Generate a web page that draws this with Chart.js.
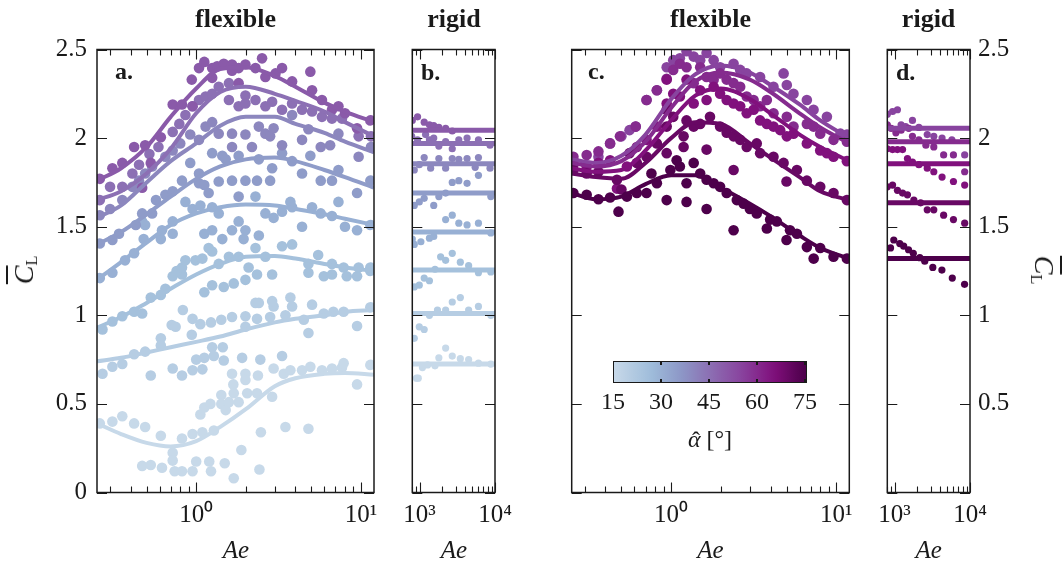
<!DOCTYPE html>
<html>
<head>
<meta charset="utf-8">
<script src="https://cdn.jsdelivr.net/npm/chart.js@4.4.1/dist/chart.umd.min.js"></script>
<style>
  html, body { margin: 0; padding: 0; background: #fff; }
  body { width: 1063px; height: 568px; position: relative; overflow: hidden;
         font-family: 'Liberation Serif', 'DejaVu Serif', serif; color: #1a1a1a; }
  canvas.panel { position: absolute; left: 0; top: 0; }
  .t { position: absolute; white-space: nowrap; line-height: 1; }
  .title { font-weight: bold; font-size: 26px; transform: translateX(-50%); }
  .letter { font-weight: bold; font-size: 24px; }
  .xlab { font-style: italic; font-size: 25px; transform: translateX(-50%); }
  .cbl { font-size: 24px; transform: translateX(-50%); }
  .ylab { font-size: 28px; }
  .ylab i { text-decoration: overline; text-decoration-thickness: 1.5px; }
  .ylab sub { font-size: 16px; font-style: normal; vertical-align: -4px; }
  #cbar { position: absolute; left: 613px; top: 361px; width: 194px; height: 22px;
          border: 1.5px solid #1a1a1a; box-sizing: border-box; }
  .cbt { position: absolute; width: 1.2px; height: 4px; background: #1a1a1a; }
  .hat { position: relative; display: inline-block; font-style: italic; }
  .hat span { position: absolute; left: 4px; top: 1px; font-style: normal; }
</style>
</head>
<body>
<canvas id="pa" class="panel" width="1063" height="568"></canvas>
<canvas id="pb" class="panel" width="1063" height="568"></canvas>
<canvas id="pc" class="panel" width="1063" height="568"></canvas>
<canvas id="pd" class="panel" width="1063" height="568"></canvas>

<div class="t title" style="left:235.5px;top:6px">flexible</div>
<div class="t title" style="left:454px;top:6px">rigid</div>
<div class="t title" style="left:710.5px;top:6px">flexible</div>
<div class="t title" style="left:928.6px;top:6px">rigid</div>

<div class="t letter" style="left:115px;top:59px">a.</div>
<div class="t letter" style="left:421px;top:60px">b.</div>
<div class="t letter" style="left:588px;top:59px">c.</div>
<div class="t letter" style="left:896px;top:60px">d.</div>

<div class="t xlab" style="left:236px;top:537px">Ae</div>
<div class="t xlab" style="left:454px;top:537px">Ae</div>
<div class="t xlab" style="left:710.5px;top:537px">Ae</div>
<div class="t xlab" style="left:928.6px;top:537px">Ae</div>

<div class="t ylab" id="ylabL" style="left:25px;top:270px;transform:translate(-50%,-50%) rotate(-90deg)"><i>C</i><sub>L</sub></div>
<div class="t ylab" id="ylabR" style="left:1043px;top:270px;transform:translate(-50%,-50%) rotate(90deg)"><i>C</i><sub>L</sub></div>

<div id="cbar"></div>
<div id="cbarTicks"></div>
<div id="cbarLabels"></div>
<div class="t" style="left:710px;top:427px;font-size:24px;transform:translateX(-50%)"><span class="hat">α<span>ˆ</span></span> [°]</div>

<script>
// ---- axes ----
const yTicks = [0, 0.5, 1, 1.5, 2, 2.5];
const flexAeRange = [0.25, 12];
const rigidAeRange = [800, 10000];
const flexAeLabels = [1, 10];
const rigidAeLabels = [1000, 10000];
const colorbarTicks = [15, 30, 45, 60, 75];
const colorbarRange = [15, 75.6];

// ---- angle of attack of each series ----
const alphaLeft = [15, 20, 25, 30, 35, 40, 45, 50];
const alphaRight = [55, 60, 65, 70, 75];

// ---- fitted curves (flexible), sampled at fitAe ----
const fitAe = [0.25, 0.35, 0.5, 0.7, 1, 1.4, 2, 3, 4, 6, 8, 12];
const flexFit15 = [0.39, 0.33, 0.28, 0.26, 0.29, 0.37, 0.47, 0.60, 0.645, 0.67, 0.675, 0.665];
const flexFit20 = [0.74, 0.76, 0.79, 0.82, 0.85, 0.88, 0.92, 0.96, 0.98, 1.0, 1.02, 1.03];
const flexFit25 = [0.93, 0.99, 1.07, 1.15, 1.23, 1.29, 1.33, 1.335, 1.32, 1.29, 1.27, 1.25];
const flexFit30 = [1.20, 1.30, 1.41, 1.51, 1.575, 1.61, 1.625, 1.62, 1.60, 1.57, 1.545, 1.51];
const flexFit35 = [1.40, 1.47, 1.57, 1.67, 1.77, 1.84, 1.88, 1.89, 1.87, 1.82, 1.78, 1.72];
const flexFit40 = [1.55, 1.62, 1.75, 1.87, 1.97, 2.07, 2.12, 2.12, 2.08, 2.03, 1.98, 1.92];
const flexFit45 = [1.65, 1.70, 1.80, 1.94, 2.14, 2.26, 2.29, 2.25, 2.21, 2.15, 2.09, 2.01];
const flexFit50 = [1.76, 1.83, 1.95, 2.12, 2.28, 2.39, 2.40, 2.35, 2.29, 2.20, 2.15, 2.09];
const flexFit55 = [1.88, 1.86, 1.90, 2.02, 2.22, 2.36, 2.41, 2.37, 2.30, 2.19, 2.10, 2.00];
const flexFit60 = [1.86, 1.84, 1.87, 1.98, 2.17, 2.32, 2.37, 2.33, 2.26, 2.14, 2.06, 1.97];
const flexFit65 = [1.83, 1.81, 1.82, 1.93, 2.10, 2.24, 2.28, 2.22, 2.14, 2.02, 1.95, 1.87];
const flexFit70 = [1.80, 1.78, 1.77, 1.86, 2.00, 2.09, 2.08, 1.97, 1.89, 1.78, 1.70, 1.65];
const flexFit75 = [1.69, 1.655, 1.67, 1.74, 1.79, 1.79, 1.72, 1.63, 1.56, 1.45, 1.38, 1.32];

// ---- measurements (flexible): [Ae, CL] ----
const flexPts15 = [[0.26,0.39],[0.31,0.40],[0.356,0.43],[0.42,0.39],[0.49,0.37],[0.61,0.32],[0.47,0.15],[0.53,0.155],[0.62,0.14],[0.72,0.225],[0.72,0.18],[0.74,0.12],[0.82,0.12],[0.82,0.305],[0.95,0.12],[0.95,0.33],[1.0,0.175],[1.09,0.34],[1.06,0.44],[1.12,0.48],[1.22,0.50],[1.2,0.175],[1.23,0.12],[1.28,0.35],[1.42,0.55],[1.42,0.50],[1.49,0.165],[1.51,0.465],[1.58,0.51],[1.65,0.67],[1.68,0.61],[1.69,0.56],[1.69,0.08],[1.81,0.51],[1.88,0.24],[1.99,0.67],[1.99,0.635],[2.04,0.56],[2.37,0.66],[2.34,0.56],[2.47,0.34],[2.42,0.13],[2.89,0.54],[2.95,0.70],[3.4,0.67],[3.48,0.37],[3.73,0.69],[4.39,0.69],[4.8,0.36],[4.93,0.71],[5.8,0.69],[6.67,0.70],[7.67,0.705],[7.85,0.73],[9.47,0.61],[11.4,0.72]];
const flexPts20 = [[0.27,0.67],[0.31,0.71],[0.356,0.725],[0.42,0.78],[0.49,0.795],[0.53,0.66],[0.61,0.87],[0.61,0.83],[0.72,0.70],[0.71,0.945],[0.75,0.935],[0.83,1.03],[0.82,0.66],[0.94,0.89],[0.95,0.69],[0.95,0.98],[1.06,0.95],[1.0,0.75],[1.09,0.695],[1.12,0.76],[1.23,0.96],[1.25,0.82],[1.28,0.77],[1.42,0.975],[1.45,0.82],[1.47,0.745],[1.65,0.99],[1.90,0.76],[1.99,0.995],[1.99,0.935],[2.29,1.07],[2.40,1.07],[2.45,0.75],[2.34,0.98],[2.81,0.99],[2.95,1.05],[2.89,1.08],[3.32,0.77],[3.48,1.0],[3.73,1.10],[3.82,1.05],[4.5,0.975],[4.8,0.90],[5.05,1.06],[5.95,1.01],[6.8,1.02],[7.85,1.02],[9.47,0.94],[11.4,1.045]];
const flexPts25 = [[0.27,0.92],[0.31,0.965],[0.356,0.995],[0.42,1.02],[0.47,1.01],[0.53,1.10],[0.61,1.115],[0.65,1.15],[0.72,1.22],[0.82,1.23],[1.12,1.13],[1.25,1.17],[1.47,1.16],[1.69,1.18],[1.99,1.20],[2.34,1.23],[2.89,1.23],[9.47,1.22],[11.4,1.25],[0.76,1.25],[0.82,1.27],[0.86,1.31],[0.99,1.31],[1.09,1.32],[1.25,1.36],[1.37,1.29],[1.58,1.33],[1.81,1.33],[2.29,1.38],[2.63,1.33],[3.32,1.39],[3.82,1.40],[4.8,1.29],[5.5,1.34],[6.67,1.29],[7.85,1.27],[9.68,1.27],[11.4,1.27],[1.19,1.38],[2.08,1.27],[4.8,1.24],[5.95,1.22],[6.67,1.23],[8.2,1.22]];
const flexPts30 = [[0.26,1.21],[0.31,1.24],[0.37,1.31],[0.42,1.35],[0.48,1.43],[0.49,1.51],[0.47,1.53],[0.61,1.43],[0.62,1.48],[0.72,1.46],[0.72,1.53],[0.86,1.64],[0.95,1.60],[1.06,1.62],[1.25,1.61],[1.37,1.575],[1.12,1.46],[1.25,1.48],[1.44,1.43],[1.65,1.48],[1.81,1.53],[1.99,1.48],[1.94,1.43],[2.29,1.67],[2.40,1.45],[2.63,1.575],[2.95,1.55],[3.32,1.585],[3.73,1.64],[3.82,1.61],[4.39,1.50],[5.05,1.61],[5.7,1.575],[6.67,1.56],[7.3,1.64],[8.0,1.50],[9.47,1.48],[11.4,1.51]];
const flexPts35 = [[0.26,1.405],[0.31,1.425],[0.34,1.46],[0.43,1.51],[0.47,1.575],[0.54,1.575],[0.57,1.65],[0.65,1.68],[0.72,1.70],[0.82,1.76],[0.92,1.86],[1.04,1.80],[1.04,1.745],[1.12,1.735],[1.19,1.69],[1.25,1.915],[1.37,1.755],[1.44,1.90],[1.51,1.88],[1.65,1.76],[1.81,1.90],[1.81,1.67],[1.99,1.76],[2.34,1.76],[2.40,1.88],[2.81,1.76],[2.89,1.83],[3.32,1.915],[3.82,1.87],[4.39,1.80],[4.93,1.90],[5.7,1.76],[6.67,1.76],[7.3,1.82],[9.47,1.69],[11.4,1.76]];
const flexPts40 = [[0.26,1.565],[0.30,1.60],[0.356,1.65],[0.41,1.725],[0.45,1.76],[0.49,1.80],[0.54,1.84],[0.65,1.895],[0.72,1.93],[0.80,1.97],[0.92,2.02],[1.04,1.99],[1.14,2.065],[1.25,2.09],[1.37,2.025],[1.65,2.025],[1.65,1.95],[1.99,2.02],[2.18,1.95],[2.40,2.065],[2.63,2.025],[2.81,2.01],[2.95,2.055],[3.32,1.96],[3.82,2.13],[4.39,1.99],[4.8,2.05],[5.7,1.95],[6.5,1.96],[7.3,2.025],[9.68,1.895],[11.5,1.95]];
const flexPts45 = [[0.26,1.65],[0.30,1.725],[0.356,1.725],[0.41,1.80],[0.45,1.85],[0.52,1.91],[0.59,1.95],[0.72,2.035],[0.79,2.08],[0.86,2.13],[0.95,2.18],[1.04,2.215],[1.14,2.235],[1.25,2.25],[1.37,2.29],[1.58,2.31],[1.58,2.215],[1.81,2.18],[1.99,2.24],[1.99,2.195],[2.29,2.215],[2.63,2.18],[2.89,2.205],[3.32,2.16],[3.82,2.195],[4.39,2.16],[5.05,2.15],[5.8,2.12],[6.67,2.11],[7.67,2.11],[9.68,2.01],[11.5,2.01]];
const flexPts50 = [[0.26,1.77],[0.31,1.83],[0.356,1.86],[0.42,1.95],[0.49,1.96],[0.53,1.86],[0.47,1.72],[0.61,2.005],[0.72,2.19],[0.82,2.19],[0.95,2.18],[0.94,2.33],[1.04,2.395],[1.12,2.43],[1.25,2.395],[1.25,2.34],[1.34,2.405],[1.47,2.42],[1.65,2.415],[1.65,2.38],[1.81,2.395],[1.81,2.31],[1.99,2.415],[2.29,2.395],[2.51,2.45],[2.63,2.345],[3.03,2.365],[3.32,2.395],[3.82,2.32],[4.93,2.375],[5.05,2.27],[5.8,2.215],[6.67,2.16],[7.3,2.18],[8.0,2.14],[9.47,2.055],[11.4,2.10]];
const flexPts55 = [[0.256,1.875],[0.363,1.895],[0.427,1.97],[0.50,2.01],[0.56,2.045],[0.61,2.065],[0.71,2.215],[0.82,2.27],[0.94,2.40],[1.03,2.44],[1.13,2.45],[1.24,2.49],[1.37,2.46],[1.50,2.44],[1.64,2.48],[1.81,2.44],[1.98,2.40],[2.39,2.42],[2.62,2.385],[2.87,2.365],[3.46,2.345],[4.17,2.29],[4.8,2.365],[5.02,2.30],[5.51,2.25],[6.64,2.215],[7.29,2.16],[8.78,2.12],[10.6,2.025],[11.6,2.02]];
const flexPts60 = [[0.256,1.895],[0.308,1.905],[0.363,1.925],[0.427,1.97],[0.49,2.01],[0.61,2.065],[0.71,2.215],[0.82,2.27],[0.94,2.335],[1.03,2.385],[1.13,2.42],[1.24,2.40],[1.37,2.31],[1.50,2.40],[1.64,2.345],[1.81,2.33],[1.98,2.365],[2.17,2.33],[2.39,2.31],[2.62,2.29],[2.87,2.235],[3.16,2.215],[3.46,2.18],[3.8,2.215],[4.17,2.14],[5.02,2.12],[5.51,2.065],[6.64,2.08],[7.29,2.065],[8.0,2.025],[9.63,1.99],[11.6,1.98]];
const flexPts65 = [[0.256,1.85],[0.308,1.84],[0.363,1.86],[0.427,1.875],[0.47,1.715],[0.54,1.84],[0.62,1.95],[0.71,1.99],[0.82,2.065],[0.94,2.195],[0.94,2.33],[1.03,2.25],[1.13,2.235],[1.24,2.33],[1.37,2.195],[1.50,2.27],[1.64,2.215],[1.81,2.29],[1.98,2.25],[2.17,2.215],[2.39,2.195],[2.62,2.18],[2.87,2.14],[3.16,2.16],[3.46,2.10],[3.8,2.08],[4.17,2.065],[4.58,2.045],[5.02,2.01],[5.51,2.025],[6.64,1.97],[8.0,1.93],[8.78,1.915],[9.63,1.895],[11.6,1.87]];
const flexPts70 = [[0.256,1.82],[0.308,1.80],[0.363,1.81],[0.47,1.765],[0.50,1.71],[0.56,1.915],[0.62,1.86],[0.71,1.895],[0.82,1.97],[0.94,2.16],[0.94,2.065],[0.94,1.915],[1.03,2.12],[1.19,2.01],[1.19,1.95],[1.24,2.10],[1.37,2.065],[1.50,2.08],[1.64,1.935],[1.72,2.12],[1.98,2.065],[2.17,2.03],[2.39,1.82],[2.39,2.01],[2.62,1.99],[2.87,1.95],[3.3,1.97],[3.46,1.915],[4.17,1.895],[4.8,1.86],[5.0,1.755],[5.78,1.82],[6.64,1.76],[8.0,1.725],[9.63,1.69],[11.6,1.65]];
const flexPts75 = [[0.256,1.69],[0.308,1.68],[0.363,1.655],[0.427,1.665],[0.48,1.585],[0.54,1.67],[0.62,1.69],[0.71,1.69],[0.76,1.80],[0.82,1.745],[0.94,1.65],[0.99,1.82],[1.08,1.875],[1.13,1.84],[1.24,1.745],[1.24,1.64],[1.37,1.86],[1.50,1.80],[1.64,1.765],[1.64,1.60],[1.81,1.745],[1.98,1.725],[2.17,1.69],[2.39,1.48],[2.5,1.65],[2.75,1.63],[3.0,1.60],[3.3,1.575],[3.8,1.49],[3.98,1.54],[4.37,1.53],[5.0,1.425],[5.25,1.48],[5.78,1.46],[6.64,1.385],[7.3,1.32],[8.0,1.38],[9.63,1.33],[11.6,1.32]];

// ---- rigid wing: mean level and measurements ----
const rigidLevelLeft = [0.725, 1.01, 1.255, 1.47, 1.69, 1.855, 1.97, 2.045];
const rigidLevelRight = [2.055, 1.98, 1.855, 1.635, 1.32];
const rigidPts15 = [[910,0.645],[960,0.645],[1090,0.705],[1275,0.72],[1600,0.715],[1800,0.76],[2215,0.815],[2710,0.77],[3470,0.755],[4470,0.75],[6030,0.73],[8800,0.725]];
const rigidPts20 = [[850,0.87],[990,0.935],[1150,0.92],[1350,1.00],[1725,1.03],[2215,1.03],[2710,1.075],[3470,1.10],[4470,1.03],[6030,1.05],[8800,1.00]];
const rigidPts25 = [[850,1.16],[990,1.17],[1150,1.21],[1350,1.195],[1600,1.26],[1900,1.33],[2215,1.31],[2710,1.35],[3470,1.30],[4470,1.28],[6030,1.24],[8800,1.245]];
const rigidPts30 = [[800,1.43],[850,1.40],[1040,1.415],[1350,1.435],[1540,1.445],[2215,1.54],[2710,1.565],[3310,1.52],[4260,1.51],[6030,1.52],[8800,1.465]];
const rigidPts35 = [[850,1.62],[990,1.64],[1150,1.66],[1540,1.62],[1800,1.67],[2215,1.69],[2710,1.75],[3310,1.76],[4260,1.745],[6030,1.79],[8800,1.67]];
const rigidPts40 = [[850,1.82],[990,1.85],[1150,1.89],[1400,1.83],[1800,1.885],[2215,1.83],[2710,1.885],[3310,1.88],[4260,1.885],[5460,1.835],[6030,1.89],[8590,1.83]];
const rigidPts45 = [[785,2.01],[940,1.99],[1200,2.02],[1350,1.99],[1540,2.00],[1800,1.955],[2215,1.98],[2710,1.94],[3310,1.99],[4260,2.00],[6030,1.99],[8590,1.96]];
const rigidPts50 = [[800,2.10],[940,2.12],[1150,2.09],[1350,2.075],[1540,2.07],[1800,2.06],[2215,2.055],[2710,2.04]];
const rigidPts55 = [[800,2.135],[940,2.15],[1090,2.16],[1220,2.075],[1400,2.065],[1725,2.10],[2100,2.06],[2710,2.02],[3310,2.01],[4260,2.00],[5750,1.99],[8500,1.905]];
const rigidPts60 = [[800,2.075],[900,2.055],[1040,2.03],[1220,2.045],[1540,2.055],[1725,2.01],[2100,1.99],[2600,1.96],[3310,1.95],[4470,1.905],[6030,1.905],[8500,1.81]];
const rigidPts65 = [[800,1.94],[940,1.935],[1090,1.935],[1275,1.935],[1480,1.885],[1725,1.865],[2100,1.85],[2710,1.83],[3310,1.81],[4260,1.78],[6030,1.755],[8500,1.735]];
const rigidPts70 = [[800,1.725],[940,1.735],[1090,1.705],[1275,1.69],[1480,1.68],[1800,1.65],[2215,1.635],[2710,1.595],[3310,1.595],[4470,1.565],[6030,1.54],[8500,1.52]];
const rigidPts75 = [[883,1.38],[975,1.425],[1170,1.405],[1320,1.39],[1530,1.37],[1770,1.35],[2160,1.325],[2510,1.305],[3210,1.27],[4240,1.255],[5820,1.21],[8470,1.175]];

// ---- colour scale (BuPu) mapped onto the angle range ----
const BUPU = [[0,[247,252,253]],[0.125,[224,236,244]],[0.25,[191,211,230]],[0.375,[158,188,218]],
              [0.5,[140,150,198]],[0.625,[140,107,177]],[0.75,[136,65,157]],[0.875,[129,15,124]],[1,[77,0,75]]];
function bupu(t) {
  t = Math.max(0, Math.min(1, t));
  for (let i = 1; i < BUPU.length; i++) {
    if (t <= BUPU[i][0]) {
      const [t0, c0] = BUPU[i - 1], [t1, c1] = BUPU[i];
      const f = (t - t0) / (t1 - t0);
      const c = c0.map((v, k) => Math.round(v + (c1[k] - v) * f));
      return `rgb(${c[0]},${c[1]},${c[2]})`;
    }
  }
  return 'rgb(77,0,75)';
}
function alphaColor(a) { return bupu(0.22 + (a - 15) / 60 * 0.78); }

// ---- lookup tables built from the arrays above ----
const flexFits = { 15: flexFit15, 20: flexFit20, 25: flexFit25, 30: flexFit30, 35: flexFit35, 40: flexFit40,
                   45: flexFit45, 50: flexFit50, 55: flexFit55, 60: flexFit60, 65: flexFit65, 70: flexFit70, 75: flexFit75 };
const flexPts = { 15: flexPts15, 20: flexPts20, 25: flexPts25, 30: flexPts30, 35: flexPts35, 40: flexPts40,
                  45: flexPts45, 50: flexPts50, 55: flexPts55, 60: flexPts60, 65: flexPts65, 70: flexPts70, 75: flexPts75 };
const rigidPts = { 15: rigidPts15, 20: rigidPts20, 25: rigidPts25, 30: rigidPts30, 35: rigidPts35, 40: rigidPts40,
                   45: rigidPts45, 50: rigidPts50, 55: rigidPts55, 60: rigidPts60, 65: rigidPts65, 70: rigidPts70, 75: rigidPts75 };

function flexDatasets(alphas) {
  const ds = [];
  alphas.forEach((a, i) => {
    const c = alphaColor(a);
    ds.push({ data: flexPts[a].map(([x, y]) => ({ x, y })), backgroundColor: c, borderWidth: 0,
              pointRadius: 5.3, showLine: false, order: 200 - i, clip: 0 });
    ds.push({ data: fitAe.map((x, j) => ({ x, y: flexFits[a][j] })), borderColor: c, borderWidth: 4,
              pointRadius: 0, showLine: true, cubicInterpolationMode: 'monotone', order: 100 - i, clip: 0 });
  });
  return ds;
}
function rigidDatasets(alphas, levels) {
  const ds = [];
  alphas.forEach((a, i) => {
    const c = alphaColor(a);
    ds.push({ data: rigidPts[a].map(([x, y]) => ({ x, y })), backgroundColor: c, borderWidth: 0,
              pointRadius: 3.6, showLine: false, order: 200 - i, clip: 0 });
    ds.push({ data: rigidAeRange.map(x => ({ x, y: levels[i] })), borderColor: c, borderWidth: 5,
              pointRadius: 0, showLine: true, order: 100 - i, clip: 0 });
  });
  return ds;
}

// frame with inward tick marks on all four sides
const frameTicks = {
  id: 'frameTicks',
  afterDatasetsDraw(chart) {
    const { ctx, chartArea: a, scales: { x, y } } = chart;
    ctx.save();
    ctx.strokeStyle = '#1a1a1a';
    ctx.lineWidth = 1.1;
    ctx.beginPath();
    const lo = Math.floor(Math.log10(x.min)), hi = Math.ceil(Math.log10(x.max));
    for (let e = lo; e <= hi; e++) {
      for (let m = 1; m < 10; m++) {
        const v = m * Math.pow(10, e);
        if (v < x.min * 0.999 || v > x.max * 1.001) continue;
        const px = Math.round(x.getPixelForValue(v)) + 0.5;
        const len = m === 1 ? 10 : 6;
        ctx.moveTo(px, a.bottom); ctx.lineTo(px, a.bottom - len);
        ctx.moveTo(px, a.top); ctx.lineTo(px, a.top + len);
      }
    }
    yTicks.forEach(v => {
      const py = Math.round(y.getPixelForValue(v)) + 0.5;
      ctx.moveTo(a.left, py); ctx.lineTo(a.left + 10, py);
      ctx.moveTo(a.right, py); ctx.lineTo(a.right - 10, py);
    });
    ctx.stroke();
    ctx.lineWidth = 1.5;
    ctx.strokeRect(a.left, a.top, a.right - a.left, a.bottom - a.top);
    ctx.restore();
  }
};

const SUP = { '0': '⁰', '1': '¹', '2': '²', '3': '³', '4': '⁴' };
const tickFont = { family: "'Liberation Serif', serif", size: 25 };

function makePanel(id, cfg) {
  return new Chart(document.getElementById(id), {
    type: 'scatter',
    data: { datasets: cfg.datasets },
    options: {
      responsive: false, animation: false, devicePixelRatio: 1, events: [],
      layout: { padding: cfg.padding, autoPadding: false },
      plugins: { legend: { display: false }, tooltip: { enabled: false } },
      scales: {
        x: {
          type: 'logarithmic', position: 'bottom', min: cfg.xRange[0], max: cfg.xRange[1],
          grid: { display: false, drawTicks: false }, border: { display: false },
          ticks: { autoSkip: false, maxRotation: 0, padding: 8, font: tickFont, color: '#1a1a1a',
                   callback: v => '10' + SUP[String(Math.round(Math.log10(v)))] },
          afterBuildTicks: s => { s.ticks = cfg.xLabels.map(v => ({ value: v })); },
          afterFit: s => { s.height = 75.5; }
        },
        y: {
          type: 'linear', min: 0, max: 2.5, position: cfg.yPos || 'left', display: cfg.yDisplay,
          grid: { display: false, drawTicks: false }, border: { display: false },
          ticks: { stepSize: 0.5, padding: cfg.yPad || 10, font: tickFont, color: '#1a1a1a',
                   callback: v => (cfg.hideZero && v === 0) ? '' : String(v) },
          afterFit: s => { s.width = cfg.yWidth || 0; }
        }
      }
    },
    plugins: [frameTicks]
  });
}

makePanel('pa', { datasets: flexDatasets(alphaLeft), xRange: flexAeRange, xLabels: flexAeLabels,
  padding: { left: 0, top: 49.5, right: 1063 - 374, bottom: 0 }, yDisplay: true, yWidth: 97, yPad: 10 });
makePanel('pb', { datasets: rigidDatasets(alphaLeft, rigidLevelLeft), xRange: rigidAeRange, xLabels: rigidAeLabels,
  padding: { left: 412.3, top: 49.5, right: 1063 - 495, bottom: 0 }, yDisplay: false });
makePanel('pc', { datasets: flexDatasets(alphaRight), xRange: flexAeRange, xLabels: flexAeLabels,
  padding: { left: 571.7, top: 49.5, right: 1063 - 849.3, bottom: 0 }, yDisplay: false });
makePanel('pd', { datasets: rigidDatasets(alphaRight, rigidLevelRight), xRange: rigidAeRange, xLabels: rigidAeLabels,
  padding: { left: 887.3, top: 49.5, right: 0, bottom: 0 }, yDisplay: true, yPos: 'right', yWidth: 93, yPad: 8, hideZero: true });

// colour bar for the angle of attack
(function () {
  const bar = document.getElementById('cbar');
  const stops = [];
  for (let k = 0; k <= 20; k++) {
    const a = colorbarRange[0] + (colorbarRange[1] - colorbarRange[0]) * k / 20;
    stops.push(`${alphaColor(a)} ${(k * 5)}%`);
  }
  bar.style.background = `linear-gradient(to right, ${stops.join(',')})`;
  const x0 = 613, w = 194;
  const pos = a => x0 + (a - colorbarRange[0]) / (colorbarRange[1] - colorbarRange[0]) * w;
  const tickHost = document.getElementById('cbarTicks');
  const labHost = document.getElementById('cbarLabels');
  colorbarTicks.forEach(a => {
    const px = pos(a);
    if (a !== colorbarRange[0]) {
      [361, 379].forEach(top => {
        const t = document.createElement('div');
        t.className = 'cbt';
        t.style.left = (px - 0.6) + 'px';
        t.style.top = top + 'px';
        tickHost.appendChild(t);
      });
    }
    const l = document.createElement('div');
    l.className = 't cbl';
    l.style.left = px + 'px';
    l.style.top = '389px';
    l.textContent = String(a);
    labHost.appendChild(l);
  });
})();
</script>
</body>
</html>
